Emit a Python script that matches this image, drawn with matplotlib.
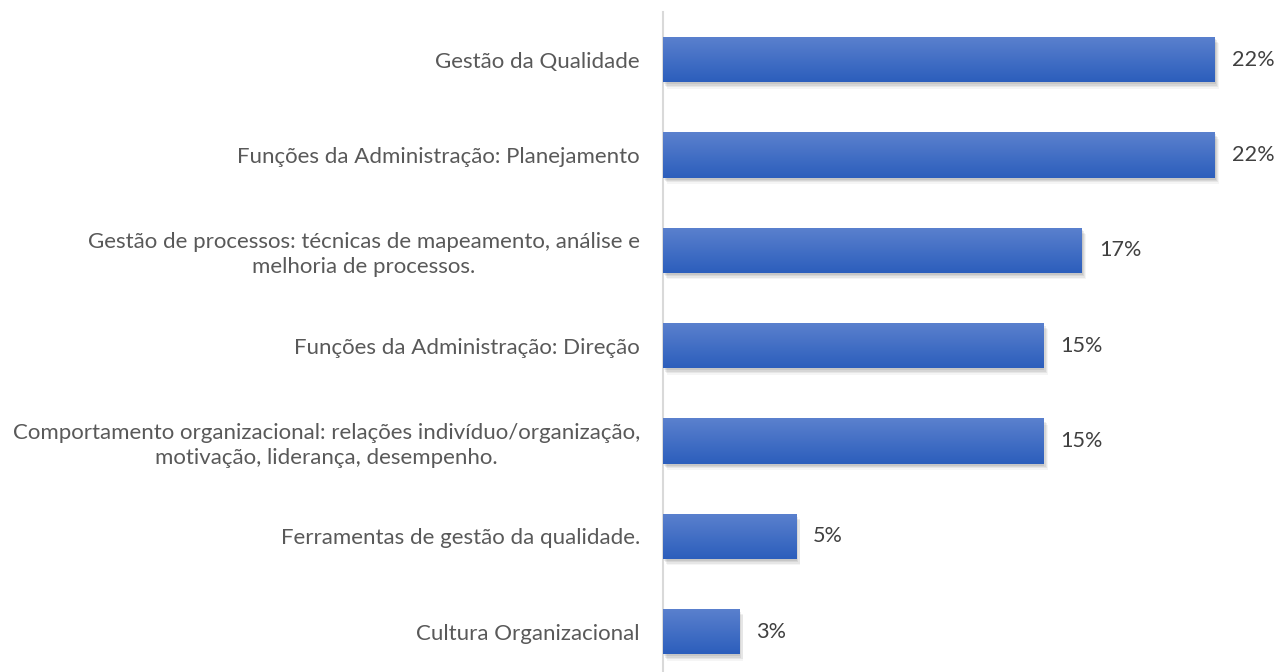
import matplotlib
matplotlib.use("Agg")
import matplotlib.pyplot as plt
import matplotlib.patheffects as pe
import numpy as np

categories = [
    "Gestão da Qualidade",
    "Funções da Administração: Planejamento",
    "Gestão de processos: técnicas de mapeamento, análise e\nmelhoria de processos.",
    "Funções da Administração: Direção",
    "Comportamento organizacional: relações indivíduo/organização,\nmotivação, liderança, desempenho.",
    "Ferramentas de gestão da qualidade.",
    "Cultura Organizacional",
]
values = [21.97, 21.97, 16.67, 15.15, 15.15, 5.30, 3.03]
value_labels = ["22%", "22%", "17%", "15%", "15%", "5%", "3%"]

plt.rcParams['font.family'] = ['Lato', 'DejaVu Sans']
W, H = 1276, 672
fig = plt.figure(figsize=(W / 100, H / 100), dpi=100)
ax_left = 663 / W
ax_top = 12 / H
band = 95.33
ax_h = band * 7 / H
ax = fig.add_axes([ax_left, 1 - ax_top - ax_h, 1 - ax_left, ax_h])

y = np.arange(len(categories))
bar_h = 0.475
xmax = (W - 663) / ((1215 - 663) / 21.97)
ax.set_xlim(0, xmax)
ax.set_ylim(len(categories) - 0.5, -0.5)

shadow = [pe.SimplePatchShadow(offset=(dx, dy), shadow_rgbFace="#000000", alpha=a)
          for dx, dy, a in [(0.5, -1.5, 0.07), (1.5, -2.5, 0.07), (2.5, -3.5, 0.06), (3.0, -4.5, 0.04)]]
bars = ax.barh(y, values, height=bar_h, color="#4472c4", zorder=2,
               path_effects=shadow + [pe.Normal()])

# gradient fill
grad = np.linspace(0, 1, 256).reshape(-1, 1)
top_c = np.array([0x5b, 0x81, 0xce]) / 255
bot_c = np.array([0x2c, 0x5e, 0xbc]) / 255
img = top_c[None, None, :] * (1 - grad[:, :, None]) + bot_c[None, None, :] * grad[:, :, None]
for b in bars:
    x0, y0 = b.get_x(), b.get_y()
    w, h = b.get_width(), b.get_height()
    im = ax.imshow(img, extent=[x0, x0 + w, y0 + h, y0], aspect='auto', zorder=3,
                   interpolation='bilinear')
    im.set_clip_path(b)

for yi, v, lab in zip(y, values, value_labels):
    ax.annotate(lab, (v, yi), xytext=(12.2, 0), textcoords='offset points',
                va='center', ha='left', fontsize=15.6, color="#404040")

ax.set_yticks(y)
ax.set_yticklabels(categories, multialignment='center', fontsize=16, color="#595959",
                   linespacing=1.3)
ax.tick_params(axis='y', length=0, pad=16.6)
ax.set_xticks([])
for s in ['top', 'right', 'bottom']:
    ax.spines[s].set_visible(False)
ax.spines['left'].set_color("#d9d9d9")
ax.spines['left'].set_linewidth(1.5)
ax.set_facecolor('none')

fig.savefig("out.png", dpi=100, facecolor="white")
